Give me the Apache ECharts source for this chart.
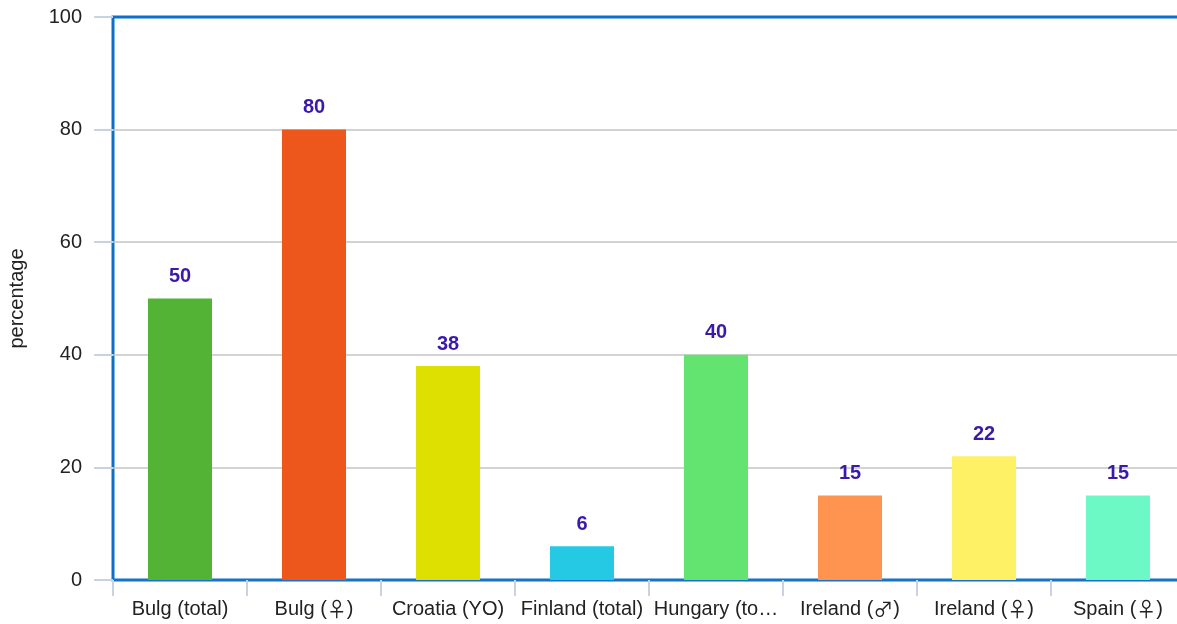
<!DOCTYPE html>
<html>
<head>
<meta charset="utf-8">
<style>
  html, body { margin: 0; padding: 0; background: #ffffff; }
  #chart { width: 1177px; height: 624px; }
</style>
<script src="https://cdn.jsdelivr.net/npm/echarts@6/dist/echarts.min.js"></script>
</head>
<body>
<div id="chart"></div>
<script>
// Categories, values and bar colours
const categories = ['Bulg (total)', 'Bulg (\u2640)', 'Croatia (YO)', 'Finland (total)', 'Hungary (total)', 'Ireland (\u2642)', 'Ireland (\u2640)', 'Spain (\u2640)'];
const values = [50, 80, 38, 6, 40, 15, 22, 15];
const barColors = ['#52b334', '#ee571c', '#dde000', '#25c9e3', '#63e36f', '#ff9450', '#fff166', '#6cf9c6'];
const yTicks = [0, 20, 40, 60, 80, 100];

const FONT = 'Liberation Sans, Arial, sans-serif';
const SYMBOL_FONT = 'Noto Sans CJK SC, DejaVu Sans, sans-serif';

// Gender signs are set in a wider symbol face inside the category labels
function formatCategory(name) {
  return name.replace(/[\u2640\u2642]/g, (s) => '{sym|' + s + '}');
}

const chart = echarts.init(document.getElementById('chart'), null, { renderer: 'canvas' });

chart.setOption({
  animation: false,
  grid: {
    left: 113, top: 17, width: 1072, height: 563,
    outerBoundsMode: 'none',
    containLabel: false,
    show: true,
    borderColor: '#0b70c6',
    borderWidth: 3,
    backgroundColor: 'transparent'
  },
  xAxis: {
    type: 'category',
    data: categories,
    axisLine: { show: true, lineStyle: { color: '#1a72c8', width: 2 } },
    axisTick: { show: true, length: 16, lineStyle: { color: '#c6d3e3', width: 2 } },
    axisLabel: {
      color: '#222222', fontSize: 20, fontFamily: FONT,
      margin: 19, interval: 0, width: 132, overflow: 'truncate', ellipsis: '\u2026',
      formatter: formatCategory,
      rich: {
        sym: { color: '#222222', fontSize: 20, fontFamily: SYMBOL_FONT }
      }
    }
  },
  yAxis: {
    type: 'value',
    min: yTicks[0], max: yTicks[yTicks.length - 1], interval: 20,
    name: 'percentage',
    nameLocation: 'middle',
    nameGap: 86,
    nameRotate: 90,
    nameTextStyle: { color: '#222222', fontSize: 20, fontFamily: FONT },
    axisLine: { show: false },
    axisTick: { show: true, length: 19, lineStyle: { color: '#c6d3e3', width: 2 } },
    axisLabel: { color: '#222222', fontSize: 20, fontFamily: FONT, margin: 31 },
    splitLine: { show: true, showMinLine: false, showMaxLine: false, lineStyle: { color: '#c4c4c4', width: 1.5 } }
  },
  series: [{
    type: 'bar',
    data: values.map((v, i) => ({ value: v, itemStyle: { color: barColors[i] } })),
    barWidth: 64,
    label: {
      show: true, position: 'top', distance: 12,
      color: '#3b1aa9', fontSize: 20, fontWeight: 'bold',
      fontFamily: FONT
    }
  }]
});
</script>
</body>
</html>
